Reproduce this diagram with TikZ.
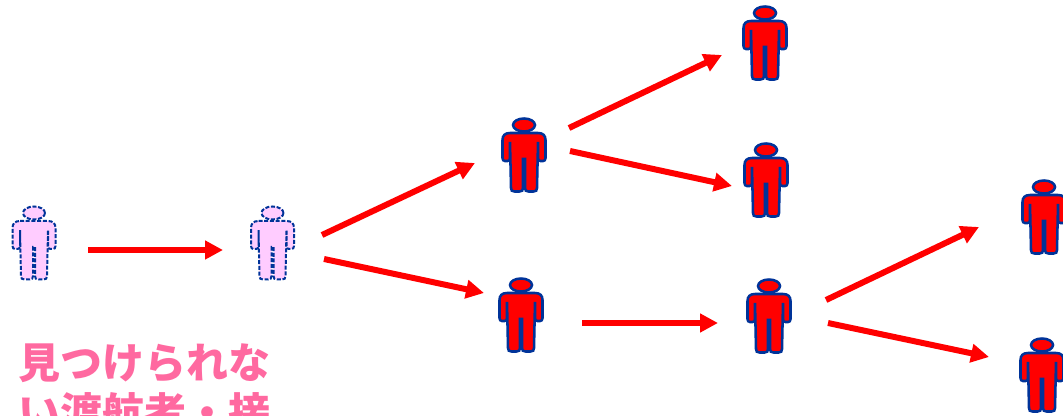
\documentclass[tikz,border=0pt]{standalone}
\usepackage{fontspec}
\newfontfamily\cjk{Noto Sans CJK JP}
\usetikzlibrary{arrows.meta}
\definecolor{outline}{RGB}{0,51,153}
\definecolor{faded}{RGB}{255,204,255}
\definecolor{notepink}{RGB}{255,105,160}
\tikzset{
    person/.pic={
        \draw[pic actions] (0,-30) ellipse (11 and 6.5);
        \draw[pic actions] (-14,-22) -- (14,-22) .. controls (19,-22) and (21.5,-19.5) .. (21.5,-15) -- (21.5,3)
            .. controls (21.5,5) and (20.5,6) .. (19,6) -- (16.5,6) .. controls (15,6) and (14,5) .. (14,3) -- (14,-13)
            -- (13,33) .. controls (13,35.5) and (12,36.5) .. (9.5,36.5) -- (4.5,36.5) .. controls (2,36.5) and (1,35.5) .. (1,33)
            -- (1,4) -- (-1,4) -- (-1,33) .. controls (-1,35.5) and (-2,36.5) .. (-4.5,36.5) -- (-9.5,36.5)
            .. controls (-12,36.5) and (-13,35.5) .. (-13,33) -- (-14,-13) -- (-14,3) .. controls (-14,5) and (-15,6) .. (-16.5,6)
            -- (-19,6) .. controls (-20.5,6) and (-21.5,5) .. (-21.5,3) -- (-21.5,-15) .. controls (-21.5,-19.5) and (-19,-22) .. cycle;
    },
    found/.style={draw=outline,fill=red,line width=1.9pt},
    unseen/.style={draw=outline,fill=faded,line width=1.5pt,dash pattern=on 3pt off 1.3pt},
    spread/.style={red,line width=4.5pt,-{Triangle[length=13.5pt,width=13.5pt]}},
}
\begin{document}
\begin{tikzpicture}[x=0.75pt,y=-0.75pt]
    \clip (0,0) rectangle (1063,416);
    \useasboundingbox (0,0) rectangle (1063,416);
    % people
    \coordinate (traveller) at (34,243);
    \coordinate (contact) at (272.5,243);
    \coordinate (upper) at (524,155);
    \coordinate (lower) at (521,315);
    \coordinate (upperA) at (765,43);
    \coordinate (upperB) at (766,180);
    \coordinate (lowerMid) at (769,316);
    \coordinate (lowerA) at (1044,217);
    \coordinate (lowerB) at (1042,375);
    \pic[unseen] at (traveller) {person};
    \pic[unseen] at (contact) {person};
    \pic[found] at (upper) {person};
    \pic[found] at (lower) {person};
    \pic[found] at (upperA) {person};
    \pic[found] at (upperB) {person};
    \pic[found] at (lowerMid) {person};
    \pic[found] at (lowerA) {person};
    \pic[found] at (lowerB) {person};
    % arrows
    \draw[spread] ([shift={(54,7)}]traveller) -- ([shift={(-49.5,7)}]contact);
    \draw[spread] ([shift={(49.5,-8)}]contact) -- ([shift={(-49,8)}]upper);
    \draw[spread] ([shift={(51.5,16)}]contact) -- ([shift={(-37,-22)}]lower);
    \draw[spread] ([shift={(45,-27)}]upper) -- ([shift={(-43,12)}]upperA);
    \draw[spread] ([shift={(46,-4)}]upper) -- ([shift={(-34,6)}]upperB);
    \draw[spread] ([shift={(61,8)}]lower) -- ([shift={(-51,7)}]lowerMid);
    \draw[spread] ([shift={(57,-16)}]lowerMid) -- ([shift={(-65,10)}]lowerA);
    \draw[spread] ([shift={(59,7)}]lowerMid) -- ([shift={(-53,-18)}]lowerB);
    % note, cut off by the lower edge
    \node[anchor=base west,inner sep=0,text=notepink,align=left,font=\cjk\bfseries\fontsize{31.5}{37.5}\selectfont] (note) at (18,428) {見つけられな\\い渡航者・接};
\end{tikzpicture}
\end{document}
